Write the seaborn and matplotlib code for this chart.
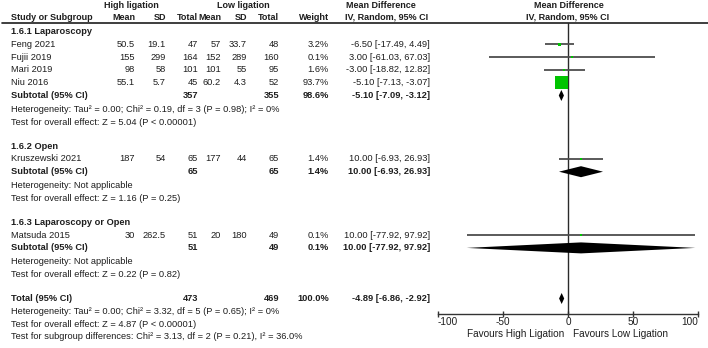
import numpy as np
import pandas as pd
import seaborn as sns
import matplotlib.pyplot as plt
from matplotlib.patches import Polygon

# study level data
studies = ["Feng 2021", "Fujii 2019", "Mari 2019", "Niu 2016", "Kruszewski 2021", "Matsuda 2015"]
study_group = [0, 0, 0, 0, 1, 2]
hi_mean = [50.5, 155, 98, 55.1, 187, 30]
hi_sd = [19.1, 299, 58, 5.7, 54, 262.5]
hi_n = [47, 164, 101, 45, 65, 51]
lo_mean = [57, 152, 101, 60.2, 177, 20]
lo_sd = [33.7, 289, 55, 4.3, 44, 180]
lo_n = [48, 160, 95, 52, 65, 49]
weight = [3.2, 0.1, 1.6, 93.7, 1.4, 0.1]
md = [-6.50, 3.00, -3.00, -5.10, 10.00, 10.00]
ci_lo = [-17.49, -61.03, -18.82, -7.13, -6.93, -77.92]
ci_hi = [4.49, 67.03, 12.82, -3.07, 26.93, 97.92]

# subgroups
groups = ["1.6.1 Laparoscopy", "1.6.2 Open", "1.6.3 Laparoscopy or Open"]
sub_hi_n = [357, 65, 51]
sub_lo_n = [355, 65, 49]
sub_w = [98.6, 1.4, 0.1]
sub_md = [-5.10, 10.00, 10.00]
sub_lo = [-7.09, -6.93, -77.92]
sub_hi = [-3.12, 26.93, 97.92]
sub_het = ["Heterogeneity: Tau² = 0.00; Chi² = 0.19, df = 3 (P = 0.98); I² = 0%",
           "Heterogeneity: Not applicable",
           "Heterogeneity: Not applicable"]
sub_test = ["Test for overall effect: Z = 5.04 (P < 0.00001)",
            "Test for overall effect: Z = 1.16 (P = 0.25)",
            "Test for overall effect: Z = 0.22 (P = 0.82)"]

# overall
tot_hi_n, tot_lo_n = 473, 469
tot_md, tot_lo, tot_hi = -4.89, -6.86, -2.92
tot_notes = ["Heterogeneity: Tau² = 0.00; Chi² = 3.32, df = 5 (P = 0.65); I² = 0%",
             "Test for overall effect: Z = 4.87 (P < 0.00001)",
             "Test for subgroup differences: Chi² = 3.13, df = 2 (P = 0.21), I² = 36.0%"]

ticks = [-100, -50, 0, 50, 100]
tick_labels = ["-100", "-50", "0", "50", "100"]

sns.set_theme(style="white")
plt.rcParams['font.family'] = ['Liberation Sans', 'DejaVu Sans']
TXT = '#1e1e1e'
FS = 6.7

fig = plt.figure(figsize=(7.08, 3.48), dpi=100)
bg = fig.add_axes([0, 0, 1, 1])
bg.set_xlim(0, 708)
bg.set_ylim(348, 0)
bg.axis('off')

# forest panel: x in data units, y in pixel rows
ax = fig.add_axes([438 / 708, 1 - 314 / 348, 260 / 708, 291 / 348])


def put(x, y, s, ha='left', bold=False, size=FS):
    bg.text(x, y, s, ha=ha, va='center', fontsize=size, color=TXT,
            fontweight='bold' if bold else 'normal')


def ci_txt(m, lo, hi):
    return f"{m:.2f} [{lo:.2f}, {hi:.2f}]"


# header
HS = 6.5
put(131, 5, "High ligation", ha='center', bold=True, size=HS)
put(243, 5, "Low ligation", ha='center', bold=True, size=HS)
put(381, 5, "Mean Difference", ha='center', bold=True, size=HS)
put(569, 5, "Mean Difference", ha='center', bold=True, size=HS)
put(11, 17, "Study or Subgroup", bold=True, size=HS)
for x, s in zip([135, 166, 197.5, 221, 247, 279, 329],
                ["Mean", "SD", "Total", "Mean", "SD", "Total", "Weight"]):
    put(x, 17, s, ha='right', bold=True, size=HS)
put(387, 17, "IV, Random, 95% CI", ha='center', bold=True, size=HS)
put(568, 17, "IV, Random, 95% CI", ha='center', bold=True, size=HS)
bg.plot([2, 708], [23, 23], color=TXT, lw=1.2)

# row layout
step = 12.8
y = 31.5
study_y = [0.0] * len(studies)
sub_y = []
for g, name in enumerate(groups):
    put(11, y, name, bold=True)
    for i in [k for k, gg in enumerate(study_group) if gg == g]:
        y += step
        study_y[i] = y
        put(11, y, studies[i])
        put(135, y, f"{hi_mean[i]:g}", ha='right')
        put(166, y, f"{hi_sd[i]:g}", ha='right')
        put(198, y, f"{hi_n[i]}", ha='right')
        put(221, y, f"{lo_mean[i]:g}", ha='right')
        put(247, y, f"{lo_sd[i]:g}", ha='right')
        put(279, y, f"{lo_n[i]}", ha='right')
        put(329, y, f"{weight[i]:.1f}%", ha='right')
        put(430, y, ci_txt(md[i], ci_lo[i], ci_hi[i]), ha='right')
    y += step
    sub_y.append(y)
    put(11, y, "Subtotal (95% CI)", bold=True)
    put(198, y, f"{sub_hi_n[g]}", ha='right', bold=True)
    put(279, y, f"{sub_lo_n[g]}", ha='right', bold=True)
    put(329, y, f"{sub_w[g]:.1f}%", ha='right', bold=True)
    put(430, y, ci_txt(sub_md[g], sub_lo[g], sub_hi[g]), ha='right', bold=True)
    y += step + 1
    put(11, y, sub_het[g])
    y += step
    put(11, y, sub_test[g])
    y += 24

tot_y = y
put(11, y, "Total (95% CI)", bold=True)
put(198, y, f"{tot_hi_n}", ha='right', bold=True)
put(279, y, f"{tot_lo_n}", ha='right', bold=True)
put(329, y, "100.0%", ha='right', bold=True)
put(430, y, ci_txt(tot_md, tot_lo, tot_hi), ha='right', bold=True)
for s in tot_notes:
    y += step
    put(11, y, s)

# forest marks
ax.axvline(0, color='#2a2a2a', lw=1, zorder=1)
ax.hlines(study_y, ci_lo, ci_hi, color='#4d4d4d', lw=1.3, zorder=2)

side_px = np.maximum(13.5 * np.sqrt(np.array(weight) / max(weight)), 2.4)
df = pd.DataFrame({'md': md, 'y': study_y, 'area': (side_px * 0.72) ** 2})
sns.scatterplot(data=df, x='md', y='y', size='area',
                sizes=(df['area'].min(), df['area'].max()),
                marker='s', color='#00c400', linewidth=0, legend=False,
                ax=ax, zorder=3)

half = 5.5
for m, lo, hi, yy in list(zip(sub_md, sub_lo, sub_hi, sub_y)) + [(tot_md, tot_lo, tot_hi, tot_y)]:
    ax.add_patch(Polygon([[lo, yy], [m, yy - half], [hi, yy], [m, yy + half]],
                         closed=True, color='black', lw=0, zorder=4))

ax.set_xlim(-100, 100)
ax.set_ylim(314, 23)
ax.set_xlabel('')
ax.set_ylabel('')
ax.set_yticks([])
ax.set_facecolor('none')
for sp in ['top', 'left', 'right']:
    ax.spines[sp].set_visible(False)
ax.spines['bottom'].set_color('#333333')
ax.spines['bottom'].set_linewidth(1)
ax.set_xticks(ticks)
ax.set_xticklabels(tick_labels)
ax.tick_params(axis='x', bottom=True, direction='inout', length=4, width=1,
               color='#333333', labelsize=7.2, labelcolor=TXT, pad=0.5)
labels = ax.get_xticklabels()
labels[0].set_horizontalalignment('left')
labels[-1].set_horizontalalignment('right')

put(564, 334, "Favours High Ligation", ha='right', size=7.2)
put(573, 334, "Favours Low Ligation", ha='left', size=7.2)

fig.savefig('out.png', dpi=100)
